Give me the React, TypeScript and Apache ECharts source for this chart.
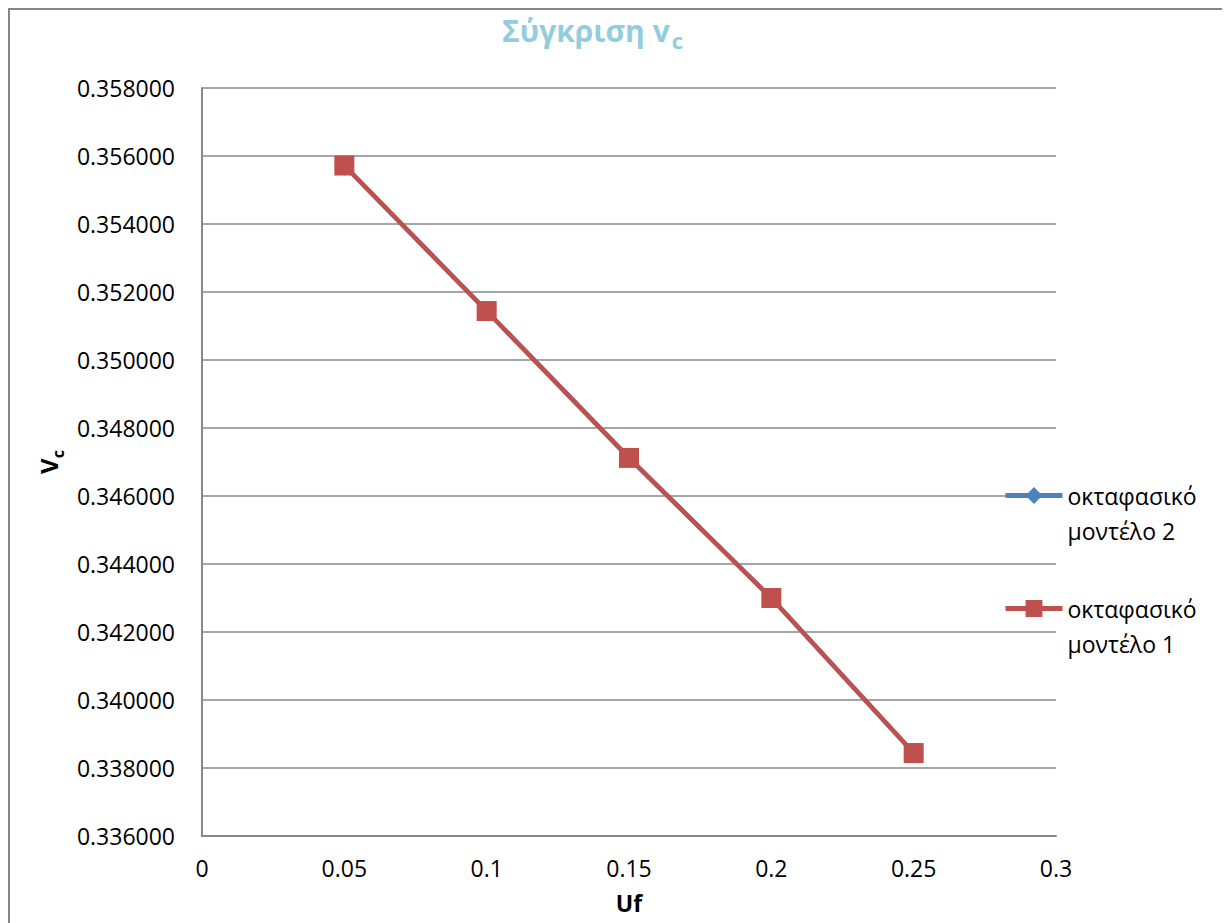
import React, { useEffect, useRef } from "react";
import * as echarts from "echarts";

const xValues = [0.05, 0.1, 0.15, 0.2, 0.25];
const model2 = [0.35572, 0.35144, 0.34712, 0.343, 0.33844];
const model1 = [0.35572, 0.35144, 0.34712, 0.343, 0.33844];
const seriesNames = ["οκταφασικό μοντέλο 2", "οκταφασικό μοντέλο 1"];
const titleMain = "Σύγκριση v";
const titleSub = "c";
const yName = "V";
const ySub = "c";
const xName = "Uf";

const FONT = "'Open Sans', 'Noto Sans', sans-serif";
const GRID_COLOR = "#898989";

export default function App() {
  const ref = useRef<HTMLDivElement>(null);
  useEffect(() => {
    if (!ref.current) return;
    const chart = echarts.init(ref.current, null, { renderer: "svg" });
    const legendFormatter = (name: string) => {
      const parts = name.split(" ");
      return "\n" + parts[0] + "\n" + parts.slice(1).join(" ");
    };
    chart.setOption({
      animation: false,
      backgroundColor: "#ffffff",
      textStyle: { fontFamily: FONT },
      graphic: [
        { type: "line", shape: { x1: 1, y1: 0, x2: 1, y2: 915 }, style: { stroke: "#868686", lineWidth: 2 } },
        { type: "line", shape: { x1: 0, y1: 1, x2: 1222, y2: 1 }, style: { stroke: "#868686", lineWidth: 2 } },
      ],
      title: {
        text: "{a|" + titleMain + "}{b|" + titleSub + "}",
        left: 494,
        top: 7,
        padding: 0,
        textStyle: {
          rich: {
            a: { fontFamily: FONT, fontSize: 30, fontWeight: "bold", color: "#93CDDD", lineHeight: 36, verticalAlign: "top" },
            b: { fontFamily: FONT, fontSize: 22, fontWeight: "bold", color: "#93CDDD", lineHeight: 10, verticalAlign: "bottom", padding: [0, 0, 0, 2] },
          },
        },
      },
      legend: {
        orient: "vertical",
        left: 995,
        top: 435,
        padding: 0,
        itemWidth: 57,
        itemHeight: 21,
        itemGap: 8,
        formatter: legendFormatter,
        lineStyle: { width: 5 },
        textStyle: { fontFamily: FONT, fontSize: 23, lineHeight: 35, color: "#000" },
        data: seriesNames,
      },
      grid: { left: 194, top: 80, width: 854, height: 748, containLabel: false },
      xAxis: {
        type: "value",
        min: 0,
        max: 0.3,
        interval: 0.05,
        name: xName,
        nameLocation: "middle",
        nameGap: 55,
        nameTextStyle: { fontFamily: FONT, fontSize: 23, fontWeight: "bold", color: "#000" },
        axisLine: { show: true, lineStyle: { color: GRID_COLOR, width: 2 } },
        axisTick: { show: false },
        splitLine: { show: false },
        axisLabel: {
          color: "#000",
          fontFamily: FONT,
          fontSize: 23,
          margin: 20,
          formatter: (v: number) => String(Number(v.toFixed(2))),
        },
      },
      yAxis: {
        type: "value",
        min: 0.336,
        max: 0.358,
        interval: 0.002,
        name: "{v|" + yName + "}{c|" + ySub + "}",
        nameLocation: "middle",
        nameGap: 135,
        nameTextStyle: {
          rich: {
            v: { fontFamily: FONT, fontSize: 24, fontWeight: "bold", color: "#000", lineHeight: 30, verticalAlign: "top" },
            c: { fontFamily: FONT, fontSize: 16, fontWeight: "bold", color: "#000", lineHeight: 10, verticalAlign: "bottom" },
          },
        },
        axisLine: { show: true, lineStyle: { color: GRID_COLOR, width: 2 } },
        axisTick: { show: false },
        splitLine: { show: true, lineStyle: { color: GRID_COLOR, width: 1.5 } },
        axisLabel: {
          color: "#000",
          fontFamily: FONT,
          fontSize: 23,
          margin: 27,
          formatter: (v: number) => v.toFixed(6),
        },
      },
      series: [
        {
          name: seriesNames[0],
          type: "line",
          data: xValues.map((x, i) => [x, model2[i]]),
          symbol: "diamond",
          symbolSize: 20,
          color: "#4F81BD",
          lineStyle: { color: "#4F81BD", width: 4.5 },
          itemStyle: { color: "#4F81BD" },
        },
        {
          name: seriesNames[1],
          type: "line",
          data: xValues.map((x, i) => [x, model1[i]]),
          symbol: "rect",
          symbolSize: 20,
          color: "#C0504D",
          lineStyle: { color: "#C0504D", width: 4.5 },
          itemStyle: { color: "#C0504D" },
        },
      ],
    });
    return () => chart.dispose();
  }, []);
  return <div ref={ref} style={{ width: 1222, height: 915 }} />;
}
